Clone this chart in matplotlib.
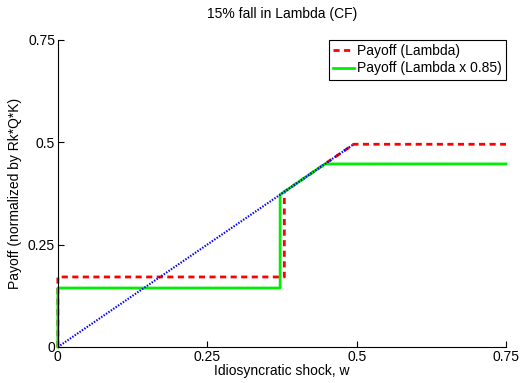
import matplotlib
matplotlib.use("Agg")
import matplotlib.pyplot as plt

plt.rcParams['font.family'] = ['Liberation Sans', 'DejaVu Sans']

# payoff curves
w_lam = [0, 0, 0.379, 0.379, 0.495, 0.75]
pay_lam = [0, 0.171, 0.171, 0.379, 0.495, 0.495]
w_lam85 = [0, 0, 0.372, 0.372, 0.447, 0.75]
pay_lam85 = [0, 0.144, 0.144, 0.372, 0.447, 0.447]
w_diag = [0, 0.495]
pay_diag = [0, 0.495]

ticks = [0, 0.25, 0.5, 0.75]
tick_labels = ["0", "0.25", "0.5", "0.75"]

fs = 10

fig = plt.figure(figsize=(5.26, 3.83), dpi=100)
ax = fig.add_axes([0.110, 0.094, 0.852, 0.802])

ax.plot(w_lam, pay_lam, color="red", linestyle="--", linewidth=2, dashes=(2.2, 1.6),
        label="Payoff (Lambda)", clip_on=False)
ax.plot(w_lam85, pay_lam85, color="#00ee00", linestyle="-", linewidth=2,
        label="Payoff (Lambda x 0.85)", clip_on=False)
ax.plot(w_diag, pay_diag, color="blue", linestyle=":", linewidth=1.5, dashes=(0.7, 0.7))

ax.set_xlim(0, 0.75)
ax.set_ylim(0, 0.75)
ax.set_xticks(ticks)
ax.set_xticklabels(tick_labels)
ax.set_yticks(ticks)
ax.set_yticklabels(tick_labels)
ax.tick_params(direction="in", labelsize=fs, length=4, pad=2)
ax.spines["top"].set_visible(False)
ax.spines["right"].set_visible(False)

ax.set_title("15% fall in Lambda (CF)", fontsize=fs, pad=16)
ax.set_xlabel("Idiosyncratic shock, w", fontsize=fs, labelpad=0)
ax.set_ylabel("Payoff (normalized by Rk*Q*K)", fontsize=fs, labelpad=4)

leg = ax.legend(loc="upper right", fontsize=fs, fancybox=False, framealpha=1,
                handlelength=1.5, handletextpad=0.2, borderaxespad=0, labelspacing=0.25,
                borderpad=0.3)
leg.get_frame().set_edgecolor("black")
leg.get_frame().set_linewidth(0.8)

fig.savefig("out.png", dpi=100)
